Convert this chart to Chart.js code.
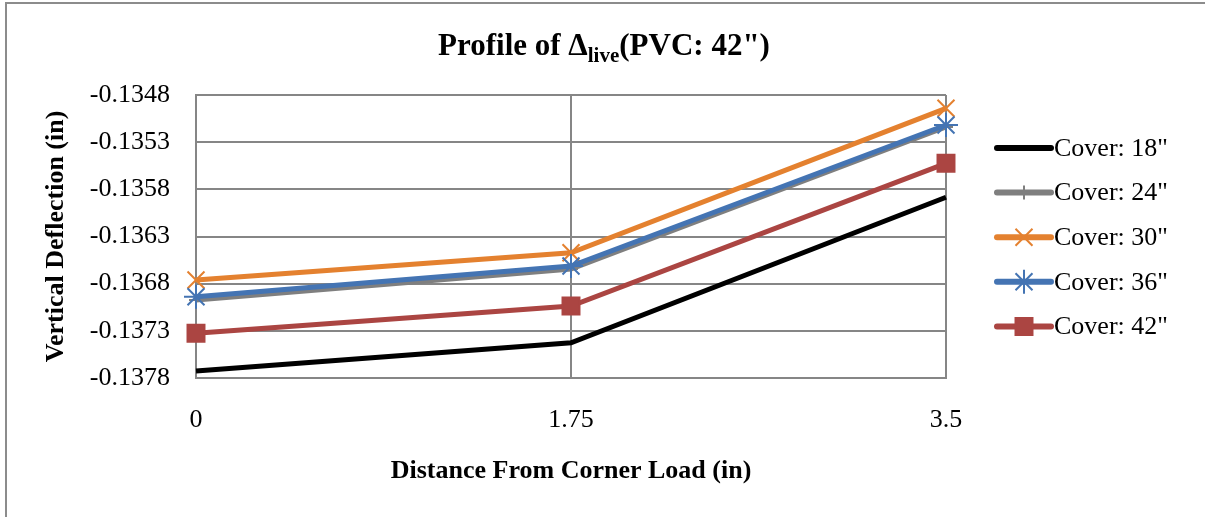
<!DOCTYPE html>
<html>
<head>
<meta charset="utf-8">
<title>Profile of Δlive (PVC: 42")</title>
<script src="https://cdn.jsdelivr.net/npm/chart.js@4.4.0/dist/chart.umd.min.js"></script>
<style>
  body { margin: 0; background: #fff; }
  #wrap { position: relative; width: 1205px; height: 517px; }
  #frame {
    position: absolute; left: 5px; top: 2px; right: 0; bottom: 0;
    border-left: 2px solid #8c8c8c; border-top: 2px solid #8c8c8c;
    pointer-events: none;
  }
  canvas { position: absolute; left: 0; top: 0; }
</style>
</head>
<body>
<div id="wrap">
  <canvas id="bieudo" width="1205" height="517"></canvas>
  <div id="frame"></div>
</div>
<script>
// distance from the corner load (in)
const distances = ["0", "1.75", "3.5"];

// vertical deflection (in) per cover depth
const cover18 = [-0.137726, -0.137426, -0.135884];
const cover24 = [-0.136973, -0.136645, -0.135139];
const cover30 = [-0.136761, -0.136472, -0.134941];
const cover36 = [-0.136938, -0.136613, -0.135118];
const cover42 = [-0.137326, -0.137037, -0.135524];

const seriesLabels = ['Cover: 18"', 'Cover: 24"', 'Cover: 30"', 'Cover: 36"', 'Cover: 42"'];
const yTickValues = [-0.1378, -0.1373, -0.1368, -0.1363, -0.1358, -0.1353, -0.1348];

const titleMain = "Profile of Δ";
const titleSub = "live";
const titleTail = '(PVC: 42")';
const xTitle = "Distance From Corner Load (in)";
const yTitle = "Vertical Deflection (in)";

const FONT = "'Liberation Serif', 'Times New Roman', serif";
const GRID = "#868686";

const styles = [
  { color: "#000000", point: false, radius: 0 },
  { color: "#7f7f7f", point: "cross", radius: 7 },
  { color: "#e4812f", point: "crossRot", radius: 12 },
  { color: "#4474b3", point: "star", radius: 12 },
  { color: "#ab4542", point: "rect", radius: 12 }
];

const allSeries = [cover18, cover24, cover30, cover36, cover42];

const datasets = allSeries.map((values, i) => ({
  label: seriesLabels[i],
  data: values,
  borderColor: styles[i].color,
  backgroundColor: styles[i].color,
  borderWidth: 5,
  pointStyle: styles[i].point,
  pointRadius: styles[i].radius,
  pointHoverRadius: styles[i].radius,
  pointBorderWidth: 2,
  tension: 0,
  clip: false,
  order: allSeries.length - i
}));

// title with a subscript, drawn centred above the plot
const titlePlugin = {
  id: "titleSub",
  afterDraw(chart) {
    const ctx = chart.ctx;
    ctx.save();
    ctx.fillStyle = "#000";
    ctx.textBaseline = "alphabetic";
    ctx.textAlign = "left";
    const big = "bold 31px " + FONT;
    const small = "bold 21px " + FONT;
    ctx.font = big;
    const w1 = ctx.measureText(titleMain).width;
    const w3 = ctx.measureText(titleTail).width;
    ctx.font = small;
    const w2 = ctx.measureText(titleSub).width;
    let x = 604 - (w1 + w2 + w3) / 2;
    const y = 55;
    ctx.font = big;
    ctx.fillText(titleMain, x, y);
    x += w1;
    ctx.font = small;
    ctx.fillText(titleSub, x, y + 7);
    x += w2;
    ctx.font = big;
    ctx.fillText(titleTail, x, y);
    ctx.restore();
  }
};

// legend on the right: line sample with marker, then label
const legendPlugin = {
  id: "sideLegend",
  afterDraw(chart) {
    const ctx = chart.ctx;
    ctx.save();
    chart.data.datasets.forEach((ds, i) => {
      const y = 148 + i * 44.6;
      ctx.strokeStyle = ds.borderColor;
      ctx.lineWidth = 6;
      ctx.lineCap = "round";
      ctx.beginPath();
      ctx.moveTo(997, y);
      ctx.lineTo(1051, y);
      ctx.stroke();
      if (ds.pointStyle) {
        ctx.fillStyle = ds.backgroundColor;
        ctx.strokeStyle = ds.borderColor;
        ctx.lineWidth = 2;
        ctx.lineCap = "butt";
        Chart.helpers.drawPoint(ctx, {
          pointStyle: ds.pointStyle,
          radius: ds.pointRadius,
          rotation: 0,
          borderWidth: 2
        }, 1024, y);
      }
      ctx.fillStyle = "#000";
      ctx.font = "26px " + FONT;
      ctx.textBaseline = "middle";
      ctx.textAlign = "left";
      ctx.fillText(ds.label, 1054, y + 1);
    });
    ctx.restore();
  }
};

const ctx = document.getElementById("bieudo").getContext("2d");
new Chart(ctx, {
  type: "line",
  data: { labels: distances, datasets: datasets },
  plugins: [titlePlugin, legendPlugin],
  options: {
    responsive: false,
    animation: false,
    events: [],
    layout: { padding: { top: 95, right: 259, bottom: 0, left: 0 } },
    plugins: {
      legend: { display: false },
      title: { display: false },
      tooltip: { enabled: false }
    },
    scales: {
      x: {
        type: "category",
        offset: false,
        afterFit(scale) { scale.height = 517 - 378; },
        grid: { color: GRID, lineWidth: 2, drawTicks: false },
        border: { color: GRID, width: 2 },
        ticks: {
          color: "#000",
          padding: 27,
          maxRotation: 0,
          font: { family: FONT, size: 26 }
        },
        title: {
          display: true,
          text: xTitle,
          color: "#000",
          padding: { top: 4, bottom: 30 },
          font: { family: FONT, size: 26, weight: "bold" }
        }
      },
      y: {
        min: yTickValues[0],
        max: yTickValues[yTickValues.length - 1],
        afterFit(scale) { scale.width = 196; },
        afterBuildTicks(scale) {
          scale.ticks = yTickValues.map(v => ({ value: v }));
        },
        grid: { color: GRID, lineWidth: 2, drawTicks: false },
        border: { color: GRID, width: 2 },
        ticks: {
          color: "#000",
          padding: 26,
          font: { family: FONT, size: 26 },
          callback: v => v.toFixed(4)
        },
        title: {
          display: true,
          text: yTitle,
          color: "#000",
          padding: { top: 41, bottom: 0 },
          font: { family: FONT, size: 26, weight: "bold" }
        }
      }
    }
  }
});
</script>
</body>
</html>
